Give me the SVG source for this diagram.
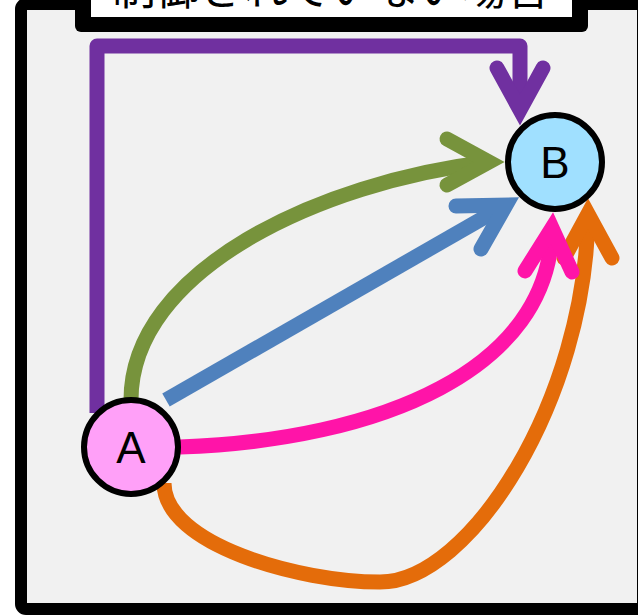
<svg xmlns="http://www.w3.org/2000/svg" width="638" height="615" viewBox="0 0 638 615">
  <style>
    .edge { fill: none; stroke-width: 15; }
    .head { fill: none; stroke-width: 15; stroke-linecap: round; stroke-linejoin: miter; stroke-miterlimit: 6; }
    .node circle { stroke: #000; stroke-width: 6; }
    .label { font-family: "Liberation Sans", Arial, sans-serif; font-size: 44px; fill: #000; text-anchor: middle; }
    .title { font-family: "Noto Sans CJK JP", "Noto Sans CJK SC", sans-serif; font-size: 44px; fill: #000; text-anchor: middle; }
    .purple { stroke: #7030A0; }
    .green { stroke: #77933C; }
    .blue { stroke: #4F81BD; }
    .pink { stroke: #FF14A8; }
    .orange { stroke: #E46C0A; }
  </style>

  <rect x="0" y="0" width="638" height="615" fill="#FFFFFF"/>

  <!-- outer frame -->
  <rect id="frame" x="21" y="4" width="622" height="605" rx="5" fill="#F1F1F1" stroke="#000" stroke-width="12"/>

  <!-- title box -->
  <g id="title">
    <rect x="75" y="-20" width="513" height="52" rx="6" fill="#000"/>
    <rect x="91" y="-20" width="481" height="37" fill="#FFFFFF"/>
    <text class="title" x="331" y="5">制御されていない場合</text>
  </g>

  <!-- connectors -->
  <g id="connectors">
    <path class="edge purple" stroke-linejoin="round" d="M97,413 L97,46 L520,46 L520,110"/>
    <polyline class="head purple" points="497,68 520,110 543,68"/>

    <path class="edge green" d="M131,400 C131,270 320,182 489,162"/>
    <polyline class="head green" points="447,139 489,162 447,185"/>

    <path class="edge blue" d="M166,400 L506,205"/>
    <polyline class="head blue" points="456,206 506,205 481,249"/>

    <path class="edge orange" d="M164,483 C164,545 300,582 380,582 C470,582 586,400 588,214"/>
    <polyline class="head orange" points="564,258 588,214 612,258"/>

    <path class="edge pink" d="M180,447 C380,440 550,370 552,228"/>
    <polyline class="head pink" points="525,271 552,228 572,272"/>
  </g>

  <!-- nodes -->
  <g id="node-A" class="node">
    <circle cx="131" cy="447" r="47" fill="#FFA0F8"/>
    <text class="label" x="131" y="463">A</text>
  </g>
  <g id="node-B" class="node">
    <circle cx="555" cy="162" r="47" fill="#A0E0FF"/>
    <text class="label" x="555" y="178">B</text>
  </g>
</svg>
